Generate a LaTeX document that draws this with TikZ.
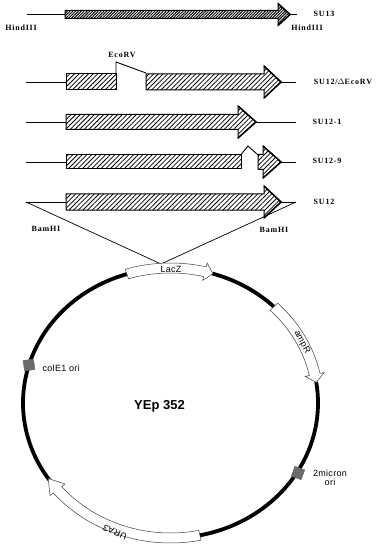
\documentclass[tikz,border=0pt]{standalone}
\usepackage{fontspec}
\setmainfont{Liberation Serif}
\newfontfamily\genefont[LetterSpace=10]{Liberation Serif Bold}
\newfontfamily\plasfont[LetterSpace=3]{Liberation Sans}
\usetikzlibrary{patterns.meta}
\definecolor{oriblock}{gray}{0.42}
\tikzset{
	dnaline/.style={black, line width=0.9pt},
	genelabel/.style={font=\genefont\fontsize{8}{9}\selectfont, inner sep=0pt},
	plaslabel/.style={font=\plasfont\fontsize{9}{9}\selectfont, inner sep=0pt, align=center},
	genebox/.style={draw=black, line width=1pt, line join=miter, pattern={Lines[angle=45,distance=3.3pt,line width=0.8pt]}},
	densebox/.style={draw=black, line width=1pt, line join=miter, pattern={Lines[angle=45,distance=2pt,line width=1pt]}},
	plasarc/.style={black, line width=3.8pt},
	plasgene/.style={draw=black!75, fill=white, line width=0.5pt, line join=miter},
	oribox/.style={draw=black!60, fill=oriblock, minimum size=10.5pt, inner sep=0pt},
}
% body x0, head x, tip x, y, half height, half head
\newcommand{\genearrow}[7][genebox]{
	\draw[#1] (#2,#5-#6) -- (#3,#5-#6) -- (#3,#5-#7) -- (#4,#5) -- (#3,#5+#7) -- (#3,#5+#6) -- (#2,#5+#6) -- cycle;
	\draw[black, line width=1.5pt] (#3,#5-#7) -- (#4,#5) -- (#3,#5+#7);
}
% start angle, head angle, tip angle
\newcommand{\plasarrow}[3]{
	\draw[plasgene] plot[domain=#1:#2, samples=30] (\x:1.037) -- (#2:1.066) -- (#3:1) -- (#2:0.934) -- plot[domain=#2:#1, samples=30] (\x:0.963) -- cycle;
}
\begin{document}
\begin{tikzpicture}[x=1pt, y=-1pt]
	\useasboundingbox (0,0) rectangle (375,545);
	\fill[white] (0,0) rectangle (375,545);
	
	% SU13
	\coordinate (sLa) at (27,14);
	\coordinate (sLb) at (65,14);
	\coordinate (sLc) at (290,14);
	\coordinate (sLd) at (297,14);
	\draw[dnaline] (sLa) -- (sLb);
	\draw[dnaline] (sLc) -- (sLd);
	\genearrow[densebox]{65}{278}{290}{14.5}{4}{11}
	\node[genelabel] (sui3) at (324,14) {SU13};
	\node[genelabel] (hindL) at (21,28) {HindIII};
	\node[genelabel] (hindR) at (307,28) {HindIII};
	
	% SU12 delta EcoRV
	\coordinate (dLa) at (26,82);
	\coordinate (dLb) at (66,82);
	\coordinate (dLc) at (281,82);
	\coordinate (dLd) at (296,82);
	\draw[dnaline] (dLa) -- (dLb);
	\draw[dnaline] (dLc) -- (dLd);
	\draw[genebox] (66,74) rectangle (116,90);
	\genearrow{146}{264}{281}{82}{8}{16}
	\coordinate (ecoa) at (116,74);
	\coordinate (ecob) at (116,62);
	\coordinate (ecoc) at (146,73);
	\draw[dnaline] (ecoa) -- (ecob) -- (ecoc);
	\node[genelabel] (ecorv) at (122,55) {EcoRV};
	\node[genelabel] (suidel) at (343,82) {SU12/$\Delta$EcoRV};
	
	% SU12-1
	\coordinate (oLa) at (26,122);
	\coordinate (oLb) at (66,122);
	\coordinate (oLc) at (256,122);
	\coordinate (oLd) at (296,122);
	\draw[dnaline] (oLa) -- (oLb);
	\draw[dnaline] (oLc) -- (oLd);
	\genearrow{66}{238}{256}{122}{7.5}{16}
	\node[genelabel] (suione) at (327,122) {SU12-1};
	
	% SU12-9
	\coordinate (nLa) at (26,162);
	\coordinate (nLb) at (66,162);
	\coordinate (nLc) at (281,162);
	\coordinate (nLd) at (296,162);
	\draw[dnaline] (nLa) -- (nLb);
	\draw[dnaline] (nLc) -- (nLd);
	\draw[genebox] (66,154.5) rectangle (241,169);
	\genearrow{258}{263}{281}{162}{7.5}{16}
	\coordinate (buma) at (241,154.5);
	\coordinate (bumb) at (248,146);
	\coordinate (bumc) at (258,155);
	\draw[dnaline] (buma) -- (bumb) -- (bumc);
	\node[genelabel] (suinine) at (327,161) {SU12-9};
	
	% SU12 and its insertion lines
	\coordinate (wLa) at (26,202);
	\coordinate (wLb) at (66,202);
	\coordinate (wLc) at (281,202);
	\coordinate (wLd) at (296,202);
	\coordinate (bamtip) at (161,264);
	\draw[dnaline] (wLa) -- (wLb);
	\draw[dnaline] (wLc) -- (wLd);
	\genearrow{66}{264}{281}{202}{8}{16}
	\draw[black, line width=0.7pt] (wLa) -- (bamtip) -- (wLd);
	\node[genelabel] (suitwo) at (324,202) {SU12};
	\node[genelabel] (bamL) at (46,229) {BamHI};
	\node[genelabel] (bamR) at (274,230) {BamHI};
	
	% plasmid, ellipse through unit radius
	\begin{scope}[shift={(170.5,403)}, x=147.5pt, y=135pt]
		\draw[plasarc] plot[domain=107:214.7, samples=60] (\x:1);
		\draw[plasarc] plot[domain=281.5:369, samples=60] (\x:1);
		\draw[plasarc] plot[domain=45.5:73.5, samples=30] (\x:1);
		\plasarrow{107.2}{76.5}{73.3}
		\plasarrow{45.5}{12.2}{8.8}
		\plasarrow{281.5}{220}{214}
	\end{scope}
	
	\node[oribox, rotate=8] (colbox) at (29,365) {};
	\node[oribox, rotate=-20] (twobox) at (298,473) {};
	\node[plaslabel] (lacz) at (171,269) {LacZ};
	\node[plaslabel, rotate=-62] (ampr) at (302,342) {ampR};
	\node[plaslabel, rotate=157] (ura) at (115,532) {URA3};
	\node[plaslabel, anchor=west] (cole) at (42.5,368.5) {colE1 ori};
	\node[plaslabel] (twomic) at (330,477.5) {2micron\\ori};
	\node[font=\fontspec{Liberation Sans Bold}\fontsize{13}{15}\selectfont, inner sep=0pt] (yep) at (159.5,406) {YEp 352};
\end{tikzpicture}
\end{document}
